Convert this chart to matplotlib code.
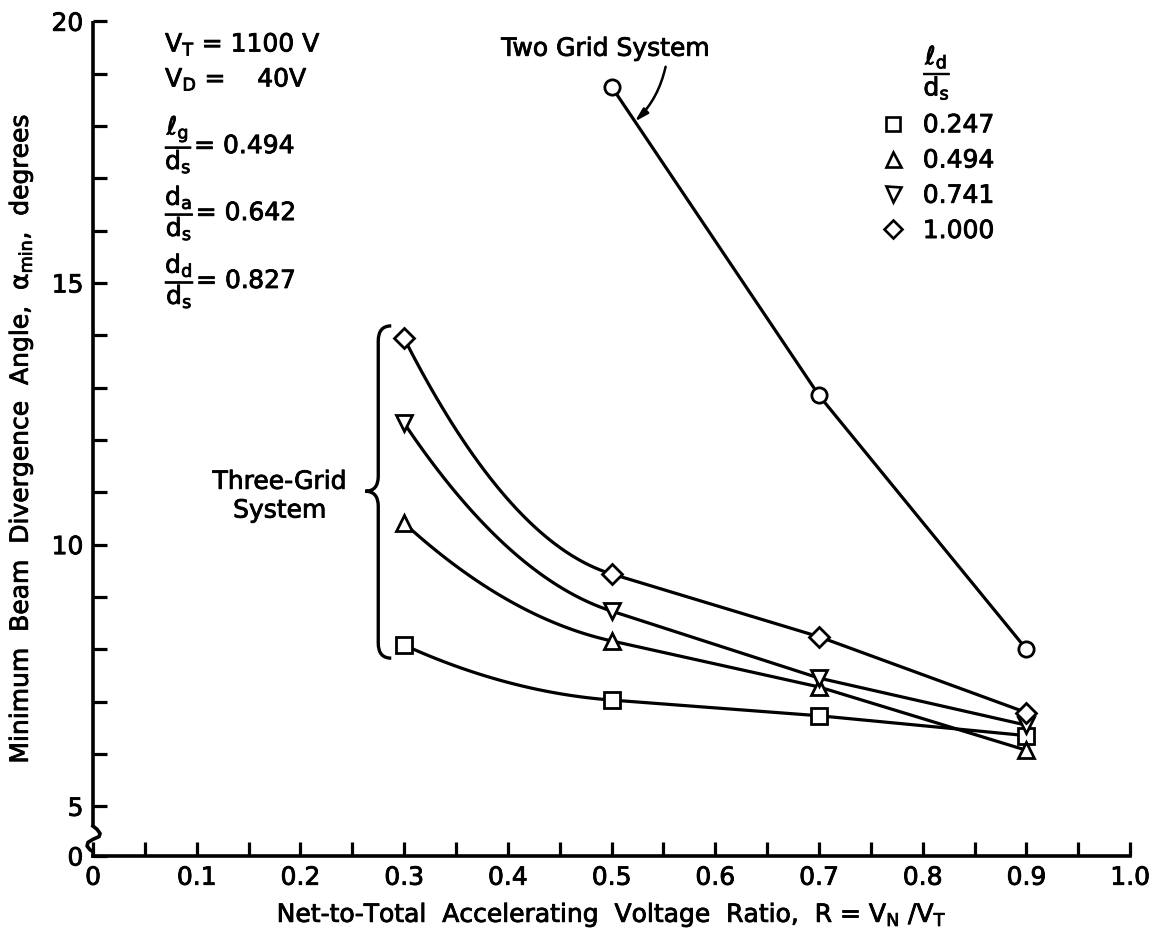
import numpy as np
import matplotlib
matplotlib.use('Agg')
import matplotlib.pyplot as plt
import matplotlib.patheffects as pe
from matplotlib.path import Path
from matplotlib.patches import PathPatch
from matplotlib.lines import Line2D
from matplotlib.text import Text

plt.rcParams['font.family'] = ['DejaVu Sans']
plt.rcParams['mathtext.fontset'] = 'dejavusans'
plt.rcParams['mathtext.default'] = 'regular'

# --- данные ---
ratio_three = [0.3, 0.5, 0.7, 0.9]
angle_0247 = [8.08, 7.03, 6.73, 6.35]
angle_0494 = [10.41, 8.16, 7.28, 6.07]
angle_0741 = [12.32, 8.73, 7.45, 6.55]
angle_1000 = [13.94, 9.44, 8.24, 6.79]

ratio_two = [0.5, 0.7, 0.9]
angle_two = [18.75, 12.85, 8.0]

ld_labels = ['0.247', '0.494', '0.741', '1.000']
ld_markers = ['s', '^', 'v', 'D']
ld_sizes = [11, 12, 12, 10]

x_ticks = [0.0, 0.1, 0.2, 0.3, 0.4, 0.5, 0.6, 0.7, 0.8, 0.9, 1.0]
x_tick_labels = ['0', '0.1', '0.2', '0.3', '0.4', '0.5', '0.6', '0.7', '0.8', '0.9', '1.0']
Y_BOTTOM = 4.05  # ось разорвана: низ оси подписан как 0
y_ticks = [Y_BOTTOM, 5, 10, 15, 20]
y_tick_labels = ['0', '5', '10', '15', '20']

FS = 18
LW = 2.3


def smooth_curve(x, y, n=120):
    """
    Первый участок - плавная дуга (квадратичная), далее - отрезки.
    Нужна только для отрисовки линии через точки.
    """
    x = np.asarray(x, float)
    y = np.asarray(y, float)
    d0 = (y[1] - y[0]) / (x[1] - x[0])
    d1 = (y[2] - y[1]) / (x[2] - x[1])
    m1 = d1
    m0 = 2 * d0 - m1
    h = x[1] - x[0]
    t = np.linspace(0, 1, n)
    h00 = 2 * t ** 3 - 3 * t ** 2 + 1
    h10 = t ** 3 - 2 * t ** 2 + t
    h01 = -2 * t ** 3 + 3 * t ** 2
    h11 = t ** 3 - t ** 2
    xs = x[0] + t * h
    ys = h00 * y[0] + h10 * h * m0 + h01 * y[1] + h11 * h * m1
    return np.concatenate([xs, x[2:]]), np.concatenate([ys, y[2:]])


fig = plt.figure(figsize=(11.53, 9.29), dpi=100, facecolor='white')
ax = fig.add_axes([0.0807, 0.0775, 0.8995, 0.8985])

ax.set_xlim(0, 1.0)
ax.set_ylim(Y_BOTTOM, 20)

# пиксели -> единицы данных
PX = 1.0 / 1037
PY = 1.0 / 52.4

# три-сеточная система
series = [angle_0247, angle_0494, angle_0741, angle_1000]
for vals, mk, ms in zip(series, ld_markers, ld_sizes):
    cx, cy = smooth_curve(ratio_three, vals)
    ax.plot(cx, cy, color='black', lw=LW, zorder=2, solid_joinstyle='round')
    ax.plot(ratio_three, vals, ls='none', marker=mk, ms=ms, mfc='white',
            mec='black', mew=2.0, zorder=3)

# двух-сеточная система
ax.plot(ratio_two, angle_two, color='black', lw=LW, zorder=2)
ax.plot(ratio_two, angle_two, ls='none', marker='o', ms=11, mfc='white',
        mec='black', mew=2.0, zorder=3)

# оси
for side in ['top', 'right', 'left']:
    ax.spines[side].set_visible(False)
ax.spines['bottom'].set_linewidth(2.6)

ax.set_xticks(x_ticks)
ax.set_xticklabels(x_tick_labels)
ax.set_xticks(np.arange(0.05, 1.0, 0.1), minor=True)
ax.set_yticks(y_ticks)
ax.set_yticklabels(y_tick_labels)
ax.set_yticks([v for v in range(6, 20) if v % 5 != 0], minor=True)
ax.tick_params(which='both', direction='in', length=10, width=2.3,
               labelsize=FS, pad=7)

# ось y с разрывом
ytr = ax.get_yaxis_transform()
ax.plot([0, 0], [20, 4.62], color='black', lw=2.6, transform=ytr,
        clip_on=False, solid_capstyle='butt')
zig_x = np.array([0, 4, 7, 6, 0, -5, -6, -3, 0, 0]) * PX
zig_y = np.array([4.62, 4.56, 4.48, 4.42, 4.37, 4.31, 4.24, 4.17, 4.13, Y_BOTTOM])
ax.plot(zig_x, zig_y, color='black', lw=2.6, transform=ytr, clip_on=False)

# подписи осей
ax.set_xlabel(r'Net-to-Total  Accelerating  Voltage  Ratio,  R = $V_N$ /$V_T$',
              fontsize=FS, labelpad=8)
ax.set_ylabel(r'Minimum  Beam  Divergence  Angle,  $\alpha_{min}$,  degrees',
              fontsize=FS, labelpad=12)

# параметры в левом верхнем углу
x_par = 72 * PX
ax.text(x_par, 20 - (46 - 22.5) * PY, r'$V_T$ = 1100 V', fontsize=FS, va='center')
ax.text(x_par, 20 - (81 - 22.5) * PY, r'$V_D$ =    40V', fontsize=FS, va='center')
ax.text(x_par, 20 - (146 - 22.5) * PY, r'$\dfrac{\ell_g}{d_s}$= 0.494', fontsize=FS, va='center')
ax.text(x_par, 20 - (215 - 22.5) * PY, r'$\dfrac{d_a}{d_s}$= 0.642', fontsize=FS, va='center')
ax.text(x_par, 20 - (283 - 22.5) * PY, r'$\dfrac{d_d}{d_s}$= 0.827', fontsize=FS, va='center')

# легенда ld/ds
handles = [Line2D([], [], ls='none', marker=mk, ms=ms * 0.9, mfc='white',
                  mec='black', mew=1.9) for mk, ms in zip(ld_markers, ld_sizes)]
leg = ax.legend(handles, ld_labels, title=r'$\dfrac{\ell_d}{d_s}$',
                title_fontsize=FS, fontsize=FS, frameon=False,
                loc='upper left', bbox_to_anchor=(0.747, 0.988),
                handlelength=1.0, handletextpad=0.7, labelspacing=0.45,
                borderpad=0)

# двух-сеточная система: подпись со стрелкой
ax.text(0.5 - 6 * PX, 20 - (50 - 22.5) * PY, 'Two Grid System', fontsize=FS,
        ha='center', va='center')
ax.annotate('', xy=(0.5 + 23 * PX, 20 - (123 - 22.5) * PY),
            xytext=(0.5 + 54 * PX, 20 - (68 - 22.5) * PY),
            arrowprops=dict(arrowstyle='-|>,head_length=0.8,head_width=0.22',
                            color='black', lw=1.8, shrinkA=0, shrinkB=0,
                            connectionstyle='arc3,rad=-0.15'))

# фигурная скобка "Three-Grid System"
bx = 0.275
b_top, b_mid, b_bot = 14.18, 11.02, 7.83
r_x, r_y = 13 * PX, 15 * PY
verts = [(bx + r_x, b_top), (bx, b_top), (bx, b_top - r_y),
         (bx, b_mid + r_y), (bx, b_mid), (bx - r_x, b_mid),
         (bx, b_mid), (bx, b_mid - r_y),
         (bx, b_bot + r_y), (bx, b_bot), (bx + r_x, b_bot)]
codes = [Path.MOVETO, Path.CURVE3, Path.CURVE3,
         Path.LINETO, Path.CURVE3, Path.CURVE3,
         Path.CURVE3, Path.CURVE3,
         Path.LINETO, Path.CURVE3, Path.CURVE3]
ax.add_patch(PathPatch(Path(verts, codes), fill=False, lw=2.4, color='black',
                       clip_on=False))
ax.text(0.18, 20 - (498 - 22.5) * PY, 'Three-Grid\nSystem', fontsize=FS,
        ha='center', va='center', multialignment='center', linespacing=1.25)

# утолщаем шрифт, как у чертёжного трафарета
fig.canvas.draw()
for t in fig.findobj(Text):
    if t.get_text():
        t.set_path_effects([pe.withStroke(linewidth=0.6, foreground='black')])

fig.savefig('out.png', dpi=100, facecolor='white')
